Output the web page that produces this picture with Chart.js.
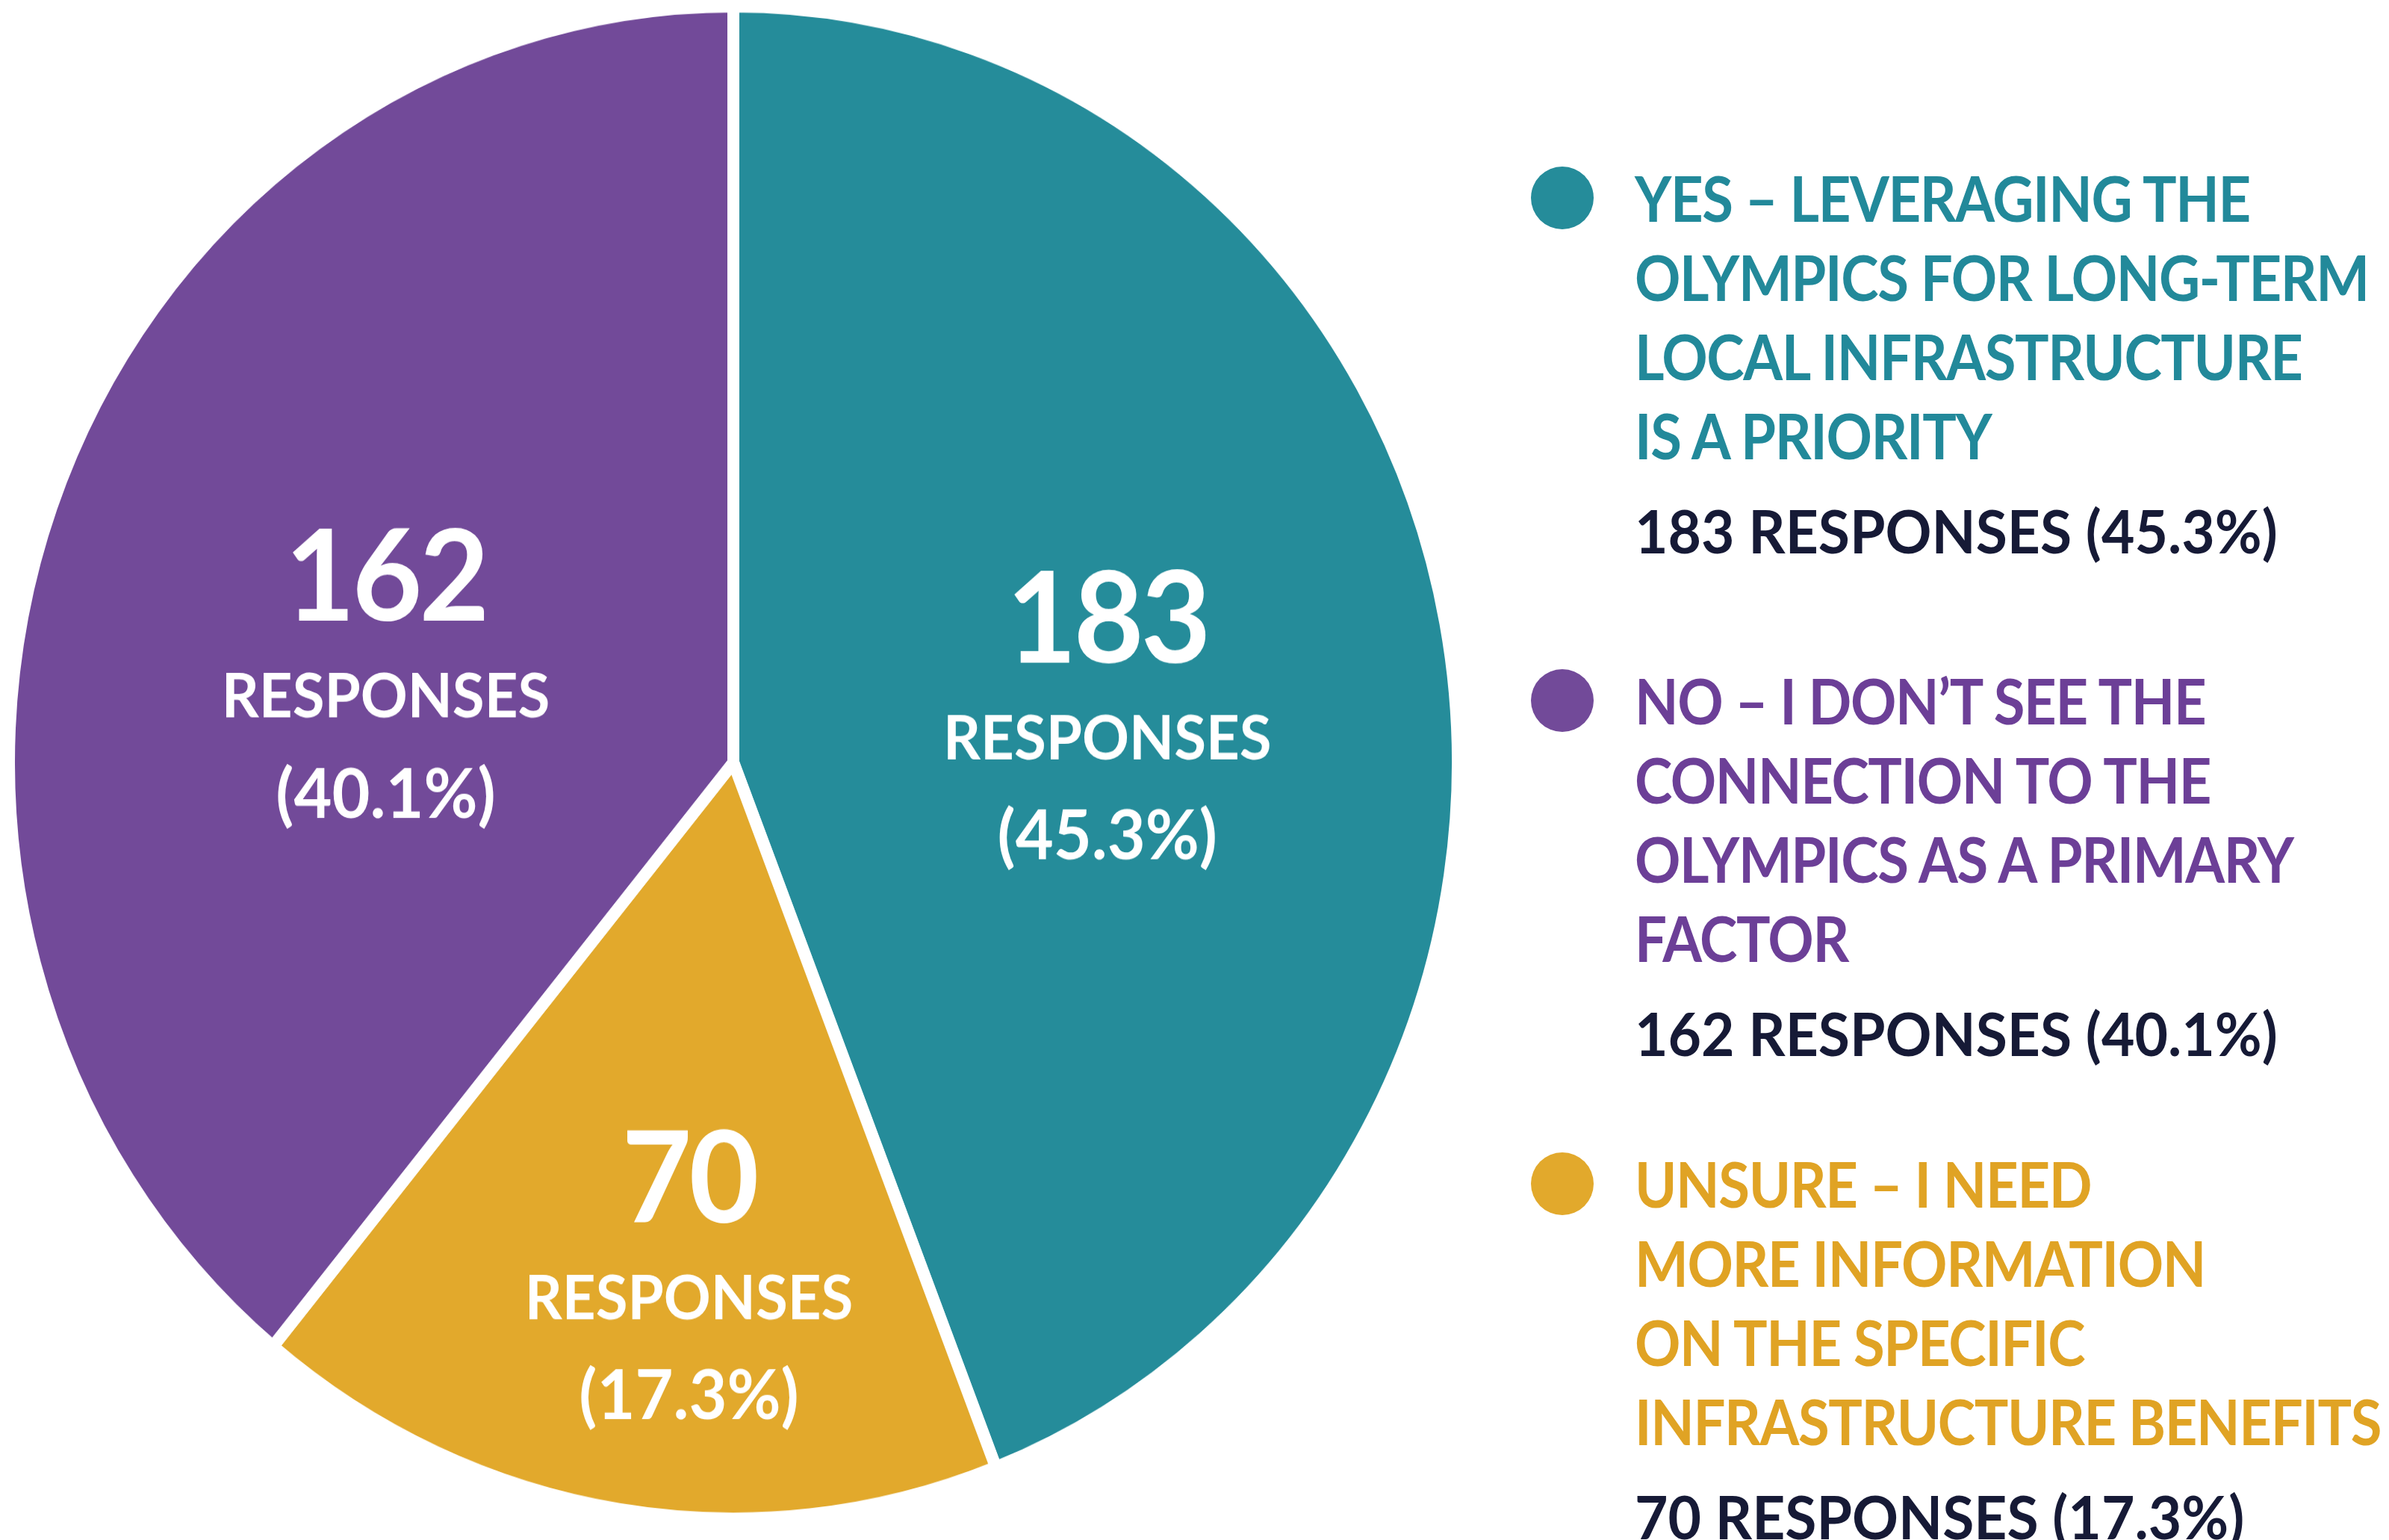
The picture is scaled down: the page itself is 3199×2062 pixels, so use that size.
<!DOCTYPE html>
<html>
<head>
<meta charset="utf-8">
<script src="https://cdn.jsdelivr.net/npm/chart.js@4.4.1/dist/chart.umd.min.js"></script>
<style>
  html, body { margin: 0; padding: 0; background: #ffffff; }
  body { width: 3199px; height: 2062px; position: relative; overflow: hidden; font-family: Lato, "Open Sans", sans-serif; }
  /* the reference pie is a little taller than wide */
  #pieWrap { position: absolute; left: 4px; top: 43px; width: 1956px; height: 1956px; transform: scaleY(1.044); transform-origin: center; }
  .legend-item { position: absolute; left: 2050px; }
  .legend-dot { position: absolute; left: 0; top: 11px; width: 84px; height: 84px; border-radius: 50%; }
  .legend-text { margin-left: 139px; font-weight: 700; font-size: 84px; line-height: 106px; letter-spacing: -1.5px; white-space: nowrap; transform: scaleX(0.905); transform-origin: left center; }
  .legend-count { margin-left: 139px; margin-top: 21px; font-weight: 700; font-size: 80px; line-height: 106px; color: #161a36; white-space: nowrap; transform: scaleX(0.96); transform-origin: left center; }
</style>
</head>
<body>
<div id="pieWrap"><canvas id="pieChart"></canvas></div>
<div id="legend"></div>
<script>
// slice order, clockwise from 12 o'clock
const categories = ["Yes", "Unsure", "No"];
const responses = [183, 70, 162];
const percentLabels = ["45.3%", "17.3%", "40.1%"];
const legendLines = [
  ["YES – LEVERAGING THE", "OLYMPICS FOR LONG-TERM", "LOCAL INFRASTRUCTURE", "IS A PRIORITY"],
  ["UNSURE – I NEED", "MORE INFORMATION", "ON THE SPECIFIC", "INFRASTRUCTURE BENEFITS"],
  ["NO – I DON’T SEE THE", "CONNECTION TO THE", "OLYMPICS AS A PRIMARY", "FACTOR"],
];
const legendOrder = [0, 2, 1];

const colors = ["#258c9a", "#e2a92c", "#724a99"];
const textColors = ["#22899a", "#e0a324", "#6c3f97"];
const legendTops = [212, 885, 1532];
// where each in-slice label block sits: fraction of radius along mid angle, then pixel nudge
const labelPlace = [
  { f: 0.52, dx: 5, dy: 51 },
  { f: 0.70, dx: 48, dy: 5 },
  { f: 0.50, dx: -9, dy: 68 },
];

const legendEl = document.getElementById("legend");
legendOrder.forEach((i, n) => {
  const item = document.createElement("div");
  item.className = "legend-item";
  item.style.top = legendTops[n] + "px";
  const dot = document.createElement("div");
  dot.className = "legend-dot";
  dot.style.background = colors[i];
  item.appendChild(dot);
  legendLines[i].forEach((line) => {
    const t = document.createElement("div");
    t.className = "legend-text";
    t.style.color = textColors[i];
    t.textContent = line;
    item.appendChild(t);
  });
  const c = document.createElement("div");
  c.className = "legend-count";
  c.textContent = responses[i] + " RESPONSES (" + percentLabels[i] + ")";
  item.appendChild(c);
  legendEl.appendChild(item);
});

const sliceLabels = {
  id: "sliceLabels",
  afterDatasetsDraw(chart) {
    const ctx = chart.ctx;
    const arcs = chart.getDatasetMeta(0).data;
    ctx.save();
    ctx.fillStyle = "#ffffff";
    ctx.textAlign = "center";
    ctx.textBaseline = "middle";
    arcs.forEach((arc, i) => {
      const p = arc.getProps(["x", "y", "startAngle", "endAngle", "outerRadius"], true);
      const mid = (p.startAngle + p.endAngle) / 2;
      const place = labelPlace[i];
      const cx = p.x + Math.cos(mid) * p.outerRadius * place.f + place.dx;
      const cy = p.y + Math.sin(mid) * p.outerRadius * place.f + place.dy;
      ctx.letterSpacing = "-4px";
      ctx.font = "700 162px Lato";
      ctx.fillText(String(responses[i]), cx, cy - 138);
      ctx.letterSpacing = "0px";
      ctx.font = "700 78px Lato";
      ctx.fillText("RESPONSES", cx, cy + 13);
      ctx.font = "700 88px Lato";
      ctx.fillText("(" + percentLabels[i] + ")", cx, cy + 138);
    });
    ctx.restore();
  },
};

new Chart(document.getElementById("pieChart"), {
  type: "pie",
  data: {
    labels: categories,
    datasets: [{
      data: responses,
      backgroundColor: colors,
      borderColor: "#ffffff",
      borderWidth: 16,
      hoverOffset: 0,
    }],
  },
  options: {
    responsive: true,
    maintainAspectRatio: false,
    animation: false,
    layout: { padding: 0 },
    plugins: {
      legend: { display: false },
      tooltip: { enabled: false },
    },
  },
  plugins: [sliceLabels],
});
</script>
</body>
</html>
